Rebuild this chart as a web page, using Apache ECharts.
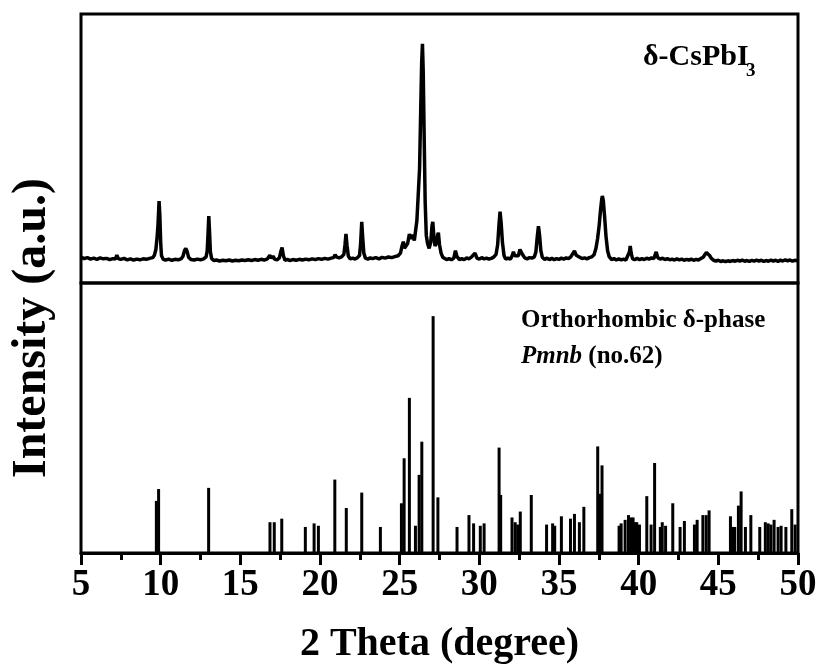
<!DOCTYPE html>
<html>
<head>
<meta charset="utf-8">
<script src="https://cdn.jsdelivr.net/npm/echarts@6/dist/echarts.min.js"></script>
<style>
html,body{margin:0;padding:0;background:#fff;}
#chart{width:821px;height:666px;}
</style>
</head>
<body>
<div id="chart"></div>
<script>
// measured pattern (top panel), 2θ and intensity (peak = 100)
var twoTheta = [5.0,5.2,5.4,5.6,5.8,6.0,6.2,6.4,6.6,6.8,7.0,7.15,7.25,7.35,7.5,7.7,7.9,8.1,8.3,8.5,8.7,8.9,9.1,9.3,9.5,
  9.6,9.7,9.78,9.83,9.9,9.95,10.0,10.05,10.15,10.3,10.5,10.7,10.9,11.1,11.3,
  11.4,11.5,11.58,11.66,11.75,11.9,12.1,12.3,12.5,12.7,12.85,
  12.92,12.97,13.02,13.07,13.12,13.2,13.35,13.5,13.7,13.9,14.1,14.3,14.5,14.7,14.9,15.1,15.3,15.5,15.7,15.9,16.1,16.3,16.5,16.7,16.85,16.95,17.05,17.15,17.3,17.45,17.55,17.62,17.7,17.8,17.95,18.1,18.3,18.5,18.7,18.9,19.1,19.3,19.5,19.7,19.9,20.1,20.3,20.5,20.7,20.85,20.95,21.05,21.2,21.35,
  21.5,21.57,21.63,21.7,21.78,21.9,22.05,22.2,22.35,22.48,
  22.55,22.62,22.68,22.75,22.85,23.0,23.15,23.3,23.5,23.7,23.9,24.1,24.3,24.5,24.7,24.9,25.05,
  25.15,25.23,25.3,25.4,25.5,25.61,25.7,25.82,25.92,26.0,26.08,26.15,26.25,26.32,26.38,26.43,26.48,26.54,26.6,26.67,26.75,26.85,26.95,27.03,27.08,27.15,27.22,27.3,27.38,27.43,27.5,27.6,27.7,27.8,
  27.95,28.1,28.25,28.4,28.5,28.6,28.75,28.9,29.05,29.2,29.35,29.5,29.6,29.73,29.85,30.0,30.15,30.3,30.45,30.6,30.75,30.9,31.05,
  31.15,31.23,31.3,31.37,31.45,31.55,31.65,31.8,31.95,32.05,32.14,32.22,32.32,32.45,32.55,32.62,32.72,32.85,33.0,33.15,33.3,33.45,33.55,33.63,33.71,33.78,33.86,33.95,34.1,34.25,34.4,34.55,34.7,34.85,35.0,35.15,35.3,35.45,35.6,35.75,35.85,35.97,36.08,36.2,36.3,36.45,36.6,36.75,36.9,37.05,37.2,37.32,
  37.42,37.52,37.6,37.68,37.72,37.78,37.86,37.95,38.05,38.15,38.3,38.45,38.6,38.75,38.9,39.05,39.2,39.32,39.42,39.47,39.53,39.62,39.75,39.9,40.05,40.2,40.35,40.5,40.65,40.8,40.95,41.1,41.2,41.35,41.5,41.65,41.8,41.95,42.1,42.25,42.4,42.55,42.7,42.85,43.0,43.15,43.3,43.45,43.6,43.75,43.9,44.05,44.15,44.25,44.35,44.45,44.55,44.7,44.85,45.0,45.15,45.3,45.45,45.6,45.75,45.9,46.05,46.2,46.35,46.5,46.65,46.8,46.95,47.1,47.25,47.4,47.55,47.7,47.85,48.0,48.15,48.3,48.45,48.6,48.75,48.9,49.05,49.2,49.35,49.5,49.65,49.8,50.0];
var intensity = [10.8,10.2,10.6,10.0,10.4,9.9,10.5,10.1,10.3,9.8,10.2,10.0,11.6,10.1,9.9,10.3,9.7,10.1,9.6,10.0,9.7,10.1,9.9,10.3,10.6,
  11.5,14.0,19.5,24,34.3,28,17,11.5,10.0,9.6,10.0,9.5,9.9,9.7,10.2,
  11.2,13.6,14.5,13.2,10.8,9.8,9.6,10.0,9.7,10.1,10.9,
  13.5,20,28,21,13,10.2,9.4,9.6,9.2,9.5,9.3,9.6,9.2,9.5,9.3,9.6,9.4,9.7,9.4,9.8,9.5,9.9,9.6,10.1,11.6,10.4,11.3,10.0,9.7,10.5,13.4,14.8,11.5,9.5,9.9,9.4,9.8,9.5,9.9,9.6,10.0,9.7,10.1,9.8,10.2,9.9,10.3,10.0,10.4,10.6,11.8,10.8,10.5,10.9,
  12.0,16,20.5,15.5,11.2,10.1,10.4,10.0,10.6,11.5,
  16.5,25.6,19,12.5,10.4,10.0,10.5,10.2,10.6,10.1,10.7,10.4,10.9,10.6,11.0,11.4,12.5,
  15.5,17.3,14.5,14.8,16.5,20.5,18.5,20.2,17.8,18.5,26,35,48,72,92,100,88,60,34,20,16.5,14.5,17,24,25.6,19,15.5,16.5,20,21,16,12.5,10.8,10.0,
  9.8,10.2,9.7,10.4,13.5,11.0,9.8,10.2,9.8,10.5,10.1,10.8,10.3,12.5,10.4,10.0,10.6,10.1,10.4,10.0,10.3,10.8,12.0,
  16,24,29.8,25,17,11.5,10.0,10.4,10.0,11.2,13.0,11.4,10.6,11.4,14.0,14.5,11.8,10.5,10.1,10.6,10.4,10.9,13,19,23.8,20,13.5,10.8,9.9,10.4,9.8,10.3,9.7,10.2,9.9,10.4,10.0,10.5,10.2,11.0,11.8,13.4,11.6,12.2,10.8,10.2,10.5,10.1,10.6,10.9,11.8,14.5,
  18.5,24,30,35,36.4,34.5,28,19.5,13.5,11.0,9.8,10.2,9.6,10.1,9.7,10.0,9.6,10.4,13.0,15.5,12.5,10.1,9.8,10.3,9.7,10.2,9.8,10.4,10.0,10.5,10.2,13.0,10.6,10.0,10.4,9.8,10.2,9.7,10.0,9.6,10.1,9.7,10.0,9.5,9.9,9.6,10.0,9.5,9.9,9.6,10.2,10.8,11.8,12.7,12.4,11.5,10.4,9.5,9.2,9.5,9.0,9.3,8.9,9.3,9.0,9.4,9.1,9.5,9.2,9.6,9.1,9.4,9.0,9.5,9.1,9.6,9.2,9.5,9.0,9.4,9.1,9.6,9.2,9.5,9.0,9.6,9.2,9.7,9.3,9.6,9.1,9.5,9.3];

// reference sticks (bottom panel), orthorhombic delta phase
var refPos = [9.73,9.87,13.01,16.86,17.13,17.6,19.08,19.63,19.9,20.93,21.65,22.62,23.79,25.11,25.28,25.61,25.99,26.22,26.39,27.1,27.4,
  28.6,29.35,29.64,30.06,30.3,31.24,31.34,32.05,32.25,32.41,32.57,33.26,34.22,34.6,34.73,35.15,35.72,35.97,36.28,36.56,37.43,37.58,37.7,
  38.77,38.9,39.15,39.36,39.53,39.65,39.78,39.88,40.05,40.51,40.78,41.0,41.36,41.48,41.69,42.14,42.6,42.87,43.5,43.67,44.03,44.24,44.42,
  45.76,45.9,46.03,46.26,46.43,46.7,47.04,47.6,47.95,48.13,48.3,48.5,48.75,48.94,49.24,49.61,49.82];
var refInt = [22,27,27.5,13,13,14.5,11,12.5,11.5,31,19,25.5,11,21,40,65.5,11.5,33,47,100,23.5,
  11,16,12.5,11.5,12.5,44.5,24.5,15,13,12,17.5,24.5,12,12.5,11.5,15.5,14.5,16.5,13,19.5,45,25,37,
  11.5,12.5,14,16,15,15,13,13,12,24,12,38,11,13,11.5,21,11,13.5,12,14,16,16,18,
  15.5,11,11,20,26,11,16,11,13,12.5,12,14,11,11.5,11,18.5,12];

var xTicks = [5,10,15,20,25,30,35,40,45,50];

var pattern = twoTheta.map(function(t,i){return [t,intensity[i]];});
var sticks = refPos.map(function(t,i){return [t,refInt[i]];});

var serif = '"Liberation Serif","Times New Roman",serif';
var myChart = echarts.init(document.getElementById('chart'));
var option = {
    backgroundColor:'#fff',
    animation:false,
    grid:[
        {left:81, right:23, top:14, height:269, show:true, borderColor:'#000', borderWidth:3, backgroundColor:'transparent'},
        {left:81, right:23, top:283, height:273, show:true, borderColor:'#000', borderWidth:3, backgroundColor:'transparent'}
    ],
    xAxis:[
        {gridIndex:0, type:'value', min:xTicks[0], max:xTicks[xTicks.length-1], interval:5,
         axisLine:{show:false}, axisTick:{show:false}, axisLabel:{show:false}, splitLine:{show:false}},
        {gridIndex:1, type:'value', min:xTicks[0], max:xTicks[xTicks.length-1], interval:5,
         axisLine:{show:true, onZero:false, lineStyle:{color:'#000', width:3}},
         axisTick:{show:true, inside:false, length:12, lineStyle:{color:'#000', width:3}},
         minorTick:{show:true, splitNumber:2, length:7, lineStyle:{color:'#000', width:3}},
         axisLabel:{color:'#000', fontFamily:serif, fontWeight:'bold', fontSize:37, margin:14},
         splitLine:{show:false},
         name:'2 Theta (degree)', nameLocation:'middle', nameGap:72,
         nameTextStyle:{color:'#000', fontFamily:serif, fontWeight:'bold', fontSize:40}}
    ],
    yAxis:[
        {gridIndex:0, type:'value', min:0, max:112.5, axisLine:{show:false}, axisTick:{show:false}, axisLabel:{show:false}, splitLine:{show:false}},
        {gridIndex:1, type:'value', min:0, max:114, axisLine:{show:false}, axisTick:{show:false}, axisLabel:{show:false}, splitLine:{show:false}}
    ],
    series:[
        {name:'δ-CsPbI3', type:'line', xAxisIndex:0, yAxisIndex:0, data:pattern, symbol:'none',
         lineStyle:{color:'#000', width:3.5}, silent:true},
        {name:'Pmnb', type:'bar', xAxisIndex:1, yAxisIndex:1, data:sticks, barWidth:3, barGap:'-100%',
         itemStyle:{color:'#000'}, silent:true}
    ],
    graphic:[
        {type:'text', x:33, y:328, rotation:Math.PI/2,
         style:{text:'Intensity (a.u.)', font:'bold 48px ' + serif, fill:'#000', textAlign:'center', textVerticalAlign:'middle'}},
        {type:'text', x:643, y:57,
         style:{text:'δ-CsPbI', font:'bold 30px ' + serif, fill:'#000', textAlign:'left', textVerticalAlign:'middle'}},
        {type:'text', x:746, y:71,
         style:{text:'3', font:'bold 19px ' + serif, fill:'#000', textAlign:'left', textVerticalAlign:'middle'}},
        {type:'text', x:521, y:321,
         style:{text:'Orthorhombic δ-phase', font:'bold 25px ' + serif, fill:'#000', textAlign:'left', textVerticalAlign:'middle'}},
        {type:'text', x:521, y:357,
         style:{text:'{i|Pmnb} (no.62)', font:'bold 25px ' + serif, fill:'#000', textAlign:'left', textVerticalAlign:'middle',
                rich:{i:{fontStyle:'italic', fontWeight:'bold', fontSize:25, fontFamily:serif}}}}
    ]
};
myChart.setOption(option);
</script>
</body>
</html>
